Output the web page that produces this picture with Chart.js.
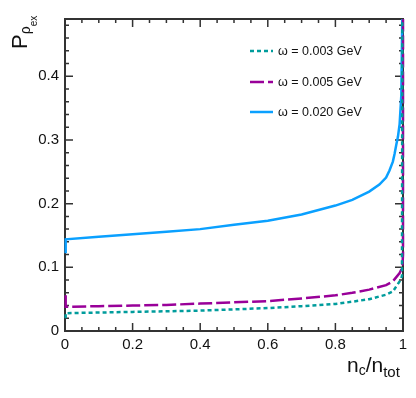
<!DOCTYPE html>
<html>
<head>
<meta charset="utf-8">
<script src="https://cdn.jsdelivr.net/npm/chart.js@4"></script>
<style>
  html, body { margin: 0; padding: 0; background: #fff; }
  #wrap { width: 416px; height: 398px; position: relative; }
</style>
</head>
<body>
<div id="wrap"><canvas id="chart"></canvas></div>
<script>
// data
const labels = ["ω = 0.003 GeV", "ω = 0.005 GeV", "ω = 0.020 GeV"];

const tealX = [0.002, 0.002, 0.1, 0.2, 0.3, 0.4, 0.5, 0.6, 0.7, 0.8, 0.85, 0.9, 0.95, 0.97, 0.99, 0.997, 0.998];
const tealY = [0.020, 0.028, 0.029, 0.030, 0.031, 0.032, 0.034, 0.036, 0.039, 0.0425, 0.046, 0.050, 0.057, 0.062, 0.078, 0.086, 0.5];

const purpleX = [0.002, 0.002, 0.1, 0.2, 0.3, 0.4, 0.5, 0.6, 0.7, 0.8, 0.85, 0.9, 0.95, 0.97, 0.99, 0.998, 1.0, 1.0];
const purpleY = [0.056, 0.038, 0.039, 0.040, 0.041, 0.043, 0.045, 0.047, 0.051, 0.056, 0.060, 0.065, 0.072, 0.078, 0.091, 0.100, 0.12, 0.5];

const blueX = [0.002, 0.002, 0.1, 0.2, 0.3, 0.4, 0.5, 0.6, 0.7, 0.8, 0.85, 0.9, 0.93, 0.95, 0.96, 0.97, 0.975, 0.98, 0.985, 0.99, 0.995, 0.998];
const blueY = [0.122, 0.144, 0.148, 0.152, 0.156, 0.160, 0.167, 0.173, 0.183, 0.197, 0.206, 0.219, 0.230, 0.241, 0.252, 0.266, 0.278, 0.292, 0.305, 0.325, 0.37, 0.5];

const xTicks = [0, 0.2, 0.4, 0.6, 0.8, 1];
const yTicks = [0, 0.1, 0.2, 0.3, 0.4];

const FONT = "'Liberation Sans', Arial, sans-serif";
const FRAME = "#333";

function pts(xs, ys) {
  return xs.map((x, i) => ({ x: x, y: ys[i] }));
}

// frame with inward ticks on all four sides (under the curves)
const frame = {
  id: "frame",
  beforeDatasetsDraw(chart) {
    const ctx = chart.ctx;
    const a = chart.chartArea;
    const sx = chart.scales.x, sy = chart.scales.y;
    ctx.save();
    ctx.strokeStyle = FRAME;
    ctx.lineWidth = 1.5;
    for (let i = 0; i <= 20; i++) {
      const px = sx.getPixelForValue(i * 0.05);
      const len = i % 4 === 0 ? 8 : 4;
      ctx.beginPath();
      ctx.moveTo(px, a.bottom); ctx.lineTo(px, a.bottom - len);
      ctx.moveTo(px, a.top); ctx.lineTo(px, a.top + len);
      ctx.stroke();
    }
    for (let i = 0; i <= 24; i++) {
      const py = sy.getPixelForValue(i * 0.02);
      const len = i % 5 === 0 ? 8 : 4;
      ctx.beginPath();
      ctx.moveTo(a.left, py); ctx.lineTo(a.left + len, py);
      ctx.moveTo(a.right, py); ctx.lineTo(a.right - len, py);
      ctx.stroke();
    }
    ctx.lineWidth = 2;
    ctx.strokeRect(a.left, a.top, a.right - a.left, a.bottom - a.top);
    ctx.restore();
  }
};

// titles and legend
const decor = {
  id: "decor",
  afterDatasetsDraw(chart) {
    const ctx = chart.ctx;
    ctx.save();
    ctx.font = "12.5px " + FONT;
    ctx.textBaseline = "middle";
    const rows = [51, 82, 112];
    chart.data.datasets.forEach((ds, i) => {
      ctx.strokeStyle = ds.borderColor;
      ctx.lineWidth = ds.borderWidth;
      ctx.setLineDash(ds.borderDash || []);
      ctx.beginPath();
      ctx.moveTo(250, rows[i]); ctx.lineTo(273, rows[i]);
      ctx.stroke();
      ctx.setLineDash([]);
      ctx.fillStyle = "#111";
      ctx.fillText(ds.label, 278, rows[i] + 1);
    });

    // x title n_c/n_tot
    ctx.fillStyle = "#111";
    ctx.textBaseline = "alphabetic";
    let x = 347;
    ctx.font = "21px " + FONT;
    ctx.fillText("n", x, 372); x += ctx.measureText("n").width;
    ctx.font = "14px " + FONT;
    ctx.fillText("c", x, 375); x += ctx.measureText("c").width;
    ctx.font = "21px " + FONT;
    ctx.fillText("/n", x, 372); x += ctx.measureText("/n").width;
    ctx.font = "15px " + FONT;
    ctx.fillText("tot", x, 377);

    // y title P_rho_ex
    ctx.translate(27, 49);
    ctx.rotate(-Math.PI / 2);
    ctx.font = "22px " + FONT;
    ctx.fillText("P", 0, 0);
    let lx = ctx.measureText("P").width;
    ctx.font = "14px " + FONT;
    ctx.fillText("ρ", lx, 3); lx += ctx.measureText("ρ").width;
    ctx.font = "10px " + FONT;
    ctx.fillText("ex", lx, 10);
    ctx.restore();
  }
};

new Chart(document.getElementById("chart"), {
  type: "line",
  data: {
    datasets: [
      {
        label: labels[0],
        data: pts(tealX, tealY),
        borderColor: "#009c9c",
        borderWidth: 2.5,
        borderDash: [4, 3],
        pointRadius: 0,
        fill: false,
        clip: { left: 2, top: 0, right: 3, bottom: 0 },
      },
      {
        label: labels[1],
        data: pts(purpleX, purpleY),
        borderColor: "#990099",
        borderWidth: 2.5,
        borderDash: [14, 4],
        pointRadius: 0,
        fill: false,
        clip: { left: 2, top: 0, right: 3, bottom: 0 },
      },
      {
        label: labels[2],
        data: pts(blueX, blueY),
        borderColor: "#0aa0ff",
        borderWidth: 2.5,
        pointRadius: 0,
        fill: false,
        clip: { left: 2, top: 0, right: 3, bottom: 0 },
      },
    ],
  },
  options: {
    responsive: true,
    maintainAspectRatio: false,
    animation: false,
    layout: { padding: { left: 0, right: 13, top: 19, bottom: 0 } },
    plugins: { legend: { display: false }, tooltip: { enabled: false } },
    scales: {
      x: {
        type: "linear",
        min: 0,
        max: 1,
        afterFit: (s) => { s.height = 67; },
        afterBuildTicks: (s) => { s.ticks = xTicks.map((v) => ({ value: v })); },
        grid: { display: false, drawTicks: false },
        border: { display: false },
        ticks: {
          padding: 5,
          color: "#111",
          font: { family: FONT, size: 15 },
          maxRotation: 0,
          callback: (v) => String(v),
        },
      },
      y: {
        min: 0,
        max: 0.49,
        afterFit: (s) => { s.width = 65; },
        afterBuildTicks: (s) => { s.ticks = yTicks.map((v) => ({ value: v })); },
        grid: { display: false, drawTicks: false },
        border: { display: false },
        ticks: {
          padding: 6,
          color: "#111",
          font: { family: FONT, size: 15 },
          callback: (v) => String(v),
        },
      },
    },
  },
  plugins: [frame, decor],
});
</script>
</body>
</html>
